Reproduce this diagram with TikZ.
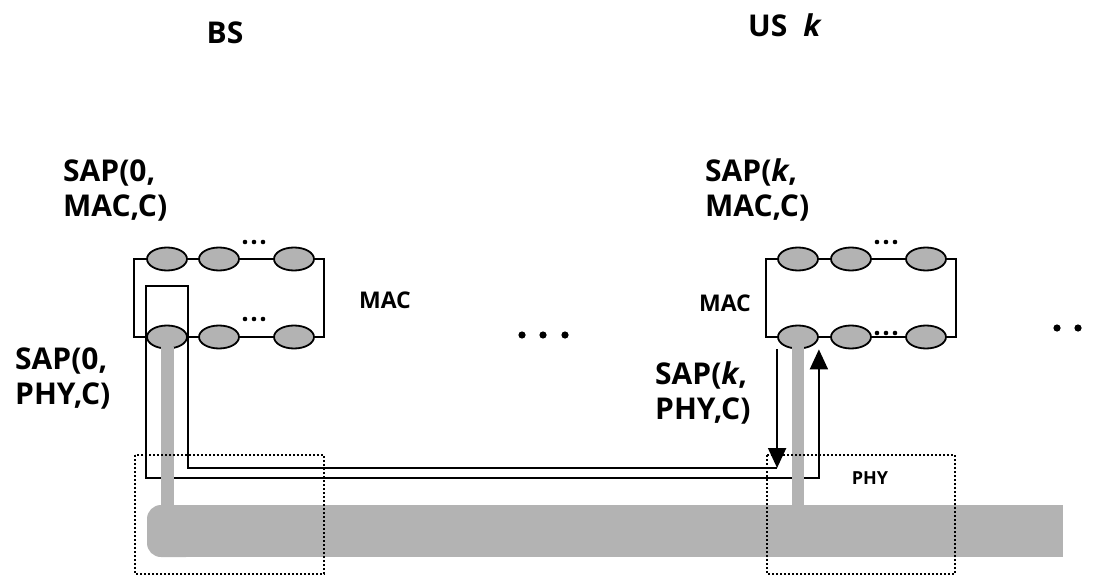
\documentclass[tikz,border=0pt]{standalone}
\usepackage{fontspec}
\setmainfont{Open Sans}
\usetikzlibrary{shapes.geometric,arrows.meta}
\definecolor{bargray}{RGB}{179,179,179}

\tikzset{
    sapell/.style={ellipse, draw, line width=1.8pt, fill=bargray,
        minimum width=40pt, minimum height=23pt, inner sep=0pt},
    rail/.style={line width=2pt},
    sig/.style={line width=2pt, -{Triangle[length=20pt,width=18pt]}},
    phybox/.style={line width=1.6pt, dash pattern=on 1.8pt off 2.2pt},
    bigtext/.style={font=\fontsize{30}{35}\selectfont\bfseries, align=left, inner sep=0pt},
    midlbl/.style={font=\fontsize{23}{28}\selectfont\bfseries, inner sep=0pt},
    smlbl/.style={font=\fontsize{18}{22}\selectfont\bfseries, inner sep=0pt}
}

\begin{document}
\begin{tikzpicture}[x=1pt,y=-1pt]
    \useasboundingbox (0,0) rectangle (1093,575);

    % SAP ellipses, BS and US k
    \foreach \n/\x in {1/167,2/219,3/294} {
        \node[sapell] (bt\n) at (\x,259) {};
        \node[sapell] (bb\n) at (\x,337) {};
    }
    \foreach \n/\x in {1/798,2/851,3/926} {
        \node[sapell] (ut\n) at (\x,259) {};
        \node[sapell] (ub\n) at (\x,337) {};
    }

    % MAC loops
    \draw[rail] (bt1) -- (bt2) -- (bt3);
    \draw[rail] (bb1) -- (bb2) -- (bb3);
    \draw[rail] (bt1.west) -- ++(-12,0) |- (bb1.west);
    \draw[rail] (bt3.east) -- ++(9,0) |- (bb3.east);
    \draw[rail] (ut1) -- (ut2) -- (ut3);
    \draw[rail] (ub1) -- (ub2) -- (ub3);
    \draw[rail] (ut1.west) -- ++(-11,0) |- (ub1.west);
    \draw[rail] (ut3.east) -- ++(9,0) |- (ub3.east);

    % small dots
    \foreach \dx in {-9,0,9} {
        \fill (254+\dx,242) circle (2.3);
        \fill (254+\dx,319) circle (2.3);
        \fill (886+\dx,242) circle (2.3);
        \fill (886+\dx,333) circle (2.3);
    }

    % signal path US k -> BS -> US k
    \draw[sig] (ub1.west |- ub1.south) -- (ub1.west |- 0,468);
    \draw[sig] (ub1.west |- 0,468) -- (bb1.east |- 0,468) -- (bb1.east |- 0,286)
        -- (bb1.west |- 0,286) -- (bb1.west |- 0,478) -- (ub1.east |- 0,478)
        -- (ub1.east |- ub1.south);

    % PHY medium
    \fill[bargray] (160.5,347) rectangle (173.5,510);
    \fill[bargray] (792,347) rectangle (804,510);
    \fill[bargray,rounded corners=14pt] (147,505) rectangle (200,557);
    \fill[bargray] (180,505) rectangle (1063,557);

    % PHY boxes
    \draw[phybox] (135,455) rectangle (324,574);
    \draw[phybox] (767,455) rectangle (955,574);

    % big dots
    \foreach \x in {522,543,565} \fill (\x,335) circle (3.6);
    \foreach \x in {1057,1078} \fill (\x,328) circle (3.6);

    % Labels
    \node[bigtext] (bs) at (225,33) {BS};
    \node[bigtext] (us) at (785,25) {US\hspace{16pt}\textit{k}};
    \node[bigtext, anchor=west] (sapbm) at (63,190) {SAP(0,\\MAC,C)};
    \node[bigtext, anchor=west] (sapbp) at (15,378) {SAP(0,\\PHY,C)};
    \node[bigtext, anchor=west] (sapum) at (705,190) {SAP(\textit{k},\\MAC,C)};
    \node[bigtext, anchor=west] (sapup) at (655,393) {SAP(\textit{k},\\PHY,C)};
    \node[midlbl] (macb) at (385,300) {MAC};
    \node[midlbl] (macu) at (725,303) {MAC};
    \node[smlbl] (phyu) at (870,478) {PHY};
\end{tikzpicture}
\end{document}
